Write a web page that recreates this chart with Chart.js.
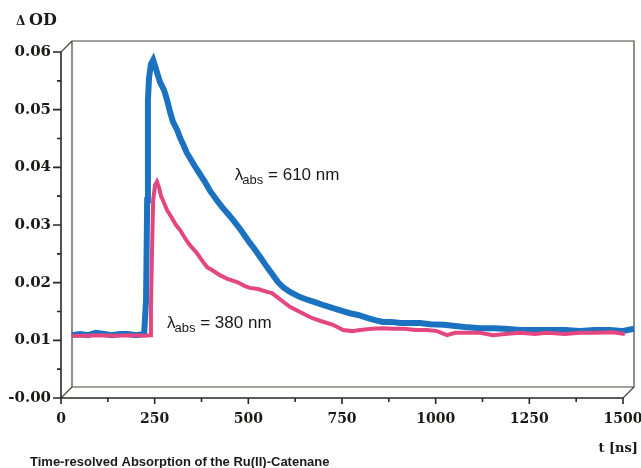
<!DOCTYPE html>
<html>
<head>
<meta charset="utf-8">
<script src="https://cdn.jsdelivr.net/npm/chart.js@4.4.1/dist/chart.umd.min.js"></script>
<style>
  html, body { margin: 0; padding: 0; background: #fff; }
  #wrap { width: 641px; height: 468px; position: relative; }
</style>
</head>
<body>
<div id="wrap"><canvas id="c"></canvas></div>
<script>
// lambda_abs = 610 nm trace (t in ns, dOD)
const t610 = [29, 51, 72, 93, 115, 136, 157, 179, 200, 222, 227, 230, 232, 235, 240, 246, 251, 256, 264, 275,
  283, 291, 299, 310, 318, 328, 336, 347, 358, 371, 384, 398, 416, 430, 446, 459, 478, 491, 504, 518,
  531, 550, 566, 579, 593, 611, 638, 659, 683, 705, 726, 750, 771, 793, 817, 838, 859, 883, 905, 931,
  958, 985, 1022, 1052, 1078, 1118, 1153, 1185, 1225, 1265, 1305, 1345, 1385, 1425, 1465, 1497, 1529]
const od610 = [0.0109, 0.0111, 0.0109, 0.0113, 0.0111, 0.0109, 0.0111, 0.0111, 0.0109, 0.0111, 0.0170, 0.0343, 0.0517, 0.0555, 0.0579, 0.0586, 0.0576, 0.0565, 0.0548, 0.0534,
  0.0517, 0.0496, 0.0479, 0.0465, 0.0451, 0.0437, 0.0425, 0.0413, 0.0401, 0.0388, 0.0375, 0.0359, 0.0343, 0.0331, 0.0319, 0.0309, 0.0293, 0.0281, 0.0269, 0.0257,
  0.0245, 0.0227, 0.0213, 0.0201, 0.0192, 0.0184, 0.0175, 0.0170, 0.0165, 0.0160, 0.0156, 0.0151, 0.0147, 0.0144, 0.0139, 0.0135, 0.0132, 0.0132, 0.0130, 0.0130,
  0.0130, 0.0128, 0.0127, 0.0125, 0.0123, 0.0121, 0.0121, 0.0120, 0.0118, 0.0118, 0.0118, 0.0118, 0.0116, 0.0118, 0.0118, 0.0116, 0.0120]

// lambda_abs = 380 nm trace
const t380 = [29, 64, 104, 144, 184, 224, 238, 240, 243, 246, 251, 256, 262, 267, 272, 283, 296, 307, 318, 331,
  344, 363, 379, 390, 403, 424, 446, 470, 491, 504, 526, 550, 563, 577, 595, 611, 638, 665, 691, 726,
  753, 777, 798, 830, 859, 886, 918, 945, 977, 1004, 1030, 1052, 1078, 1118, 1153, 1185, 1225, 1265, 1297, 1345,
  1385, 1425, 1473, 1505, 1529]
const od380 = [0.0108, 0.0108, 0.0109, 0.0108, 0.0109, 0.0108, 0.0109, 0.0153, 0.0257, 0.0343, 0.0369, 0.0375, 0.0364, 0.0350, 0.0343, 0.0326, 0.0312, 0.0300, 0.0291, 0.0277,
  0.0265, 0.0251, 0.0236, 0.0227, 0.0222, 0.0213, 0.0206, 0.0201, 0.0194, 0.0191, 0.0189, 0.0184, 0.0182, 0.0175, 0.0166, 0.0158, 0.0149, 0.0140, 0.0134, 0.0127,
  0.0118, 0.0116, 0.0118, 0.0120, 0.0121, 0.0120, 0.0120, 0.0118, 0.0118, 0.0116, 0.0109, 0.0113, 0.0113, 0.0113, 0.0109, 0.0111, 0.0113, 0.0111, 0.0113, 0.0111,
  0.0113, 0.0113, 0.0114, 0.0111, 0.0109]

const xTicks = [0, 250, 500, 750, 1000, 1250, 1500]
const yTicks = [0, 0.01, 0.02, 0.03, 0.04, 0.05, 0.06]
const yTickLabels = ['-0.00', '0.01', '0.02', '0.03', '0.04', '0.05', '0.06']

const DEPTH = 11

// the two curve labels sit at (t, dOD) positions
const curveLabels = [
  { t: 464, od: 0.0378, text: ' = 610 nm' },
  { t: 283, od: 0.0121, text: ' = 380 nm' }
]

const toPts = (xs, ys) => xs.map((v, i) => ({ x: v, y: ys[i] }))

// box with back wall, outside tick marks and the texts
const frame3d = {
  id: 'frame3d',
  beforeDatasetsDraw(chart) {
    const { ctx, chartArea: a, scales: { x, y } } = chart
    ctx.save()
    ctx.strokeStyle = '#4a4441'
    ctx.lineWidth = 1.2
    ctx.beginPath()
    ctx.moveTo(a.left + DEPTH, a.bottom - DEPTH)
    ctx.lineTo(a.left + DEPTH, a.top - DEPTH)
    ctx.lineTo(a.right + DEPTH, a.top - DEPTH)
    ctx.lineTo(a.right + DEPTH, a.bottom - DEPTH)
    ctx.lineTo(a.left + DEPTH, a.bottom - DEPTH)
    ctx.moveTo(a.left, a.top); ctx.lineTo(a.left + DEPTH, a.top - DEPTH)
    ctx.moveTo(a.left, a.bottom); ctx.lineTo(a.left + DEPTH, a.bottom - DEPTH)
    ctx.moveTo(a.right, a.bottom); ctx.lineTo(a.right + DEPTH, a.bottom - DEPTH)
    ctx.stroke()

    ctx.strokeStyle = '#2b2623'
    ctx.lineWidth = 1.6
    ctx.beginPath()
    ctx.moveTo(a.left, a.top); ctx.lineTo(a.left, a.bottom); ctx.lineTo(a.right, a.bottom)
    yTicks.forEach((v, i) => {
      const py = y.getPixelForValue(v)
      ctx.moveTo(a.left - 8, py); ctx.lineTo(a.left, py)
      if (i < yTicks.length - 1) {
        const pm = y.getPixelForValue((v + yTicks[i + 1]) / 2)
        ctx.moveTo(a.left - 4, pm); ctx.lineTo(a.left, pm)
      }
    })
    xTicks.forEach((v, i) => {
      const px = x.getPixelForValue(v)
      ctx.moveTo(px, a.bottom); ctx.lineTo(px, a.bottom + 6)
      if (i < xTicks.length - 1) {
        const pm = x.getPixelForValue((v + xTicks[i + 1]) / 2)
        ctx.moveTo(pm, a.bottom); ctx.lineTo(pm, a.bottom + 4)
      }
    })
    ctx.stroke()
    ctx.restore()
  },
  afterDatasetsDraw(chart) {
    const { ctx, scales: { x, y } } = chart
    ctx.save()
    ctx.fillStyle = '#1c1a19'
    ctx.textBaseline = 'alphabetic'

    curveLabels.forEach(l => {
      let px = x.getPixelForValue(l.t)
      const py = y.getPixelForValue(l.od)
      ctx.font = '17px "Liberation Sans", Arial, sans-serif'
      ctx.fillText('λ', px, py)
      px += ctx.measureText('λ').width - 1
      ctx.font = '13px "Liberation Sans", Arial, sans-serif'
      ctx.fillText('abs', px, py + 4)
      px += ctx.measureText('abs').width
      ctx.font = '17px "Liberation Sans", Arial, sans-serif'
      ctx.fillText(l.text, px, py)
    })

    // axis titles and caption
    ctx.font = 'bold 12px "DejaVu Serif", serif'
    ctx.fillText('Δ', 16, 25)
    ctx.font = 'bold 16px "DejaVu Serif", serif'
    ctx.fillText('OD', 29, 25)
    ctx.font = 'bold 13px "DejaVu Serif", serif'
    ctx.textAlign = 'right'
    ctx.fillText('t [ns]', 638, 452)
    ctx.textAlign = 'left'
    ctx.font = 'bold 13px "Liberation Sans", Arial, sans-serif'
    ctx.fillText('Time-resolved Absorption of the Ru(II)-Catenane', 30, 466)
    ctx.restore()
  }
}

new Chart(document.getElementById('c'), {
  type: 'line',
  data: {
    datasets: [
      {
        label: '380 nm',
        data: toPts(t380, od380),
        borderColor: '#e2477f',
        borderWidth: 4,
        pointRadius: 0,
        tension: 0,
        clip: false
      },
      {
        label: '610 nm',
        data: toPts(t610, od610),
        borderColor: '#1a72c0',
        borderWidth: 6,
        pointRadius: 0,
        tension: 0,
        clip: false
      }
    ]
  },
  options: {
    responsive: true,
    maintainAspectRatio: false,
    animation: false,
    layout: { padding: { top: 52, right: 18, left: 0, bottom: 0 } },
    plugins: {
      legend: { display: false },
      tooltip: { enabled: false }
    },
    scales: {
      x: {
        type: 'linear',
        min: 0,
        max: 1500,
        afterBuildTicks: s => { s.ticks = xTicks.map(v => ({ value: v })) },
        afterFit: s => { s.height = 70; s.paddingLeft = 0; s.paddingRight = 0 },
        grid: { display: false, drawTicks: false },
        border: { display: false },
        ticks: {
          font: { family: '"DejaVu Serif", serif', size: 14, weight: 'bold' },
          color: '#1c1a19',
          padding: 13,
          maxRotation: 0,
          callback: v => String(v)
        }
      },
      y: {
        min: 0,
        max: 0.06,
        afterBuildTicks: s => { s.ticks = yTicks.map(v => ({ value: v })) },
        afterFit: s => { s.width = 61; s.paddingTop = 0; s.paddingBottom = 0 },
        grid: { display: false, drawTicks: false },
        border: { display: false },
        ticks: {
          font: { family: '"DejaVu Serif", serif', size: 15, weight: 'bold' },
          color: '#1c1a19',
          padding: 10,
          callback: (v, i) => yTickLabels[i]
        }
      }
    }
  },
  plugins: [frame3d]
})
</script>
</body>
</html>
